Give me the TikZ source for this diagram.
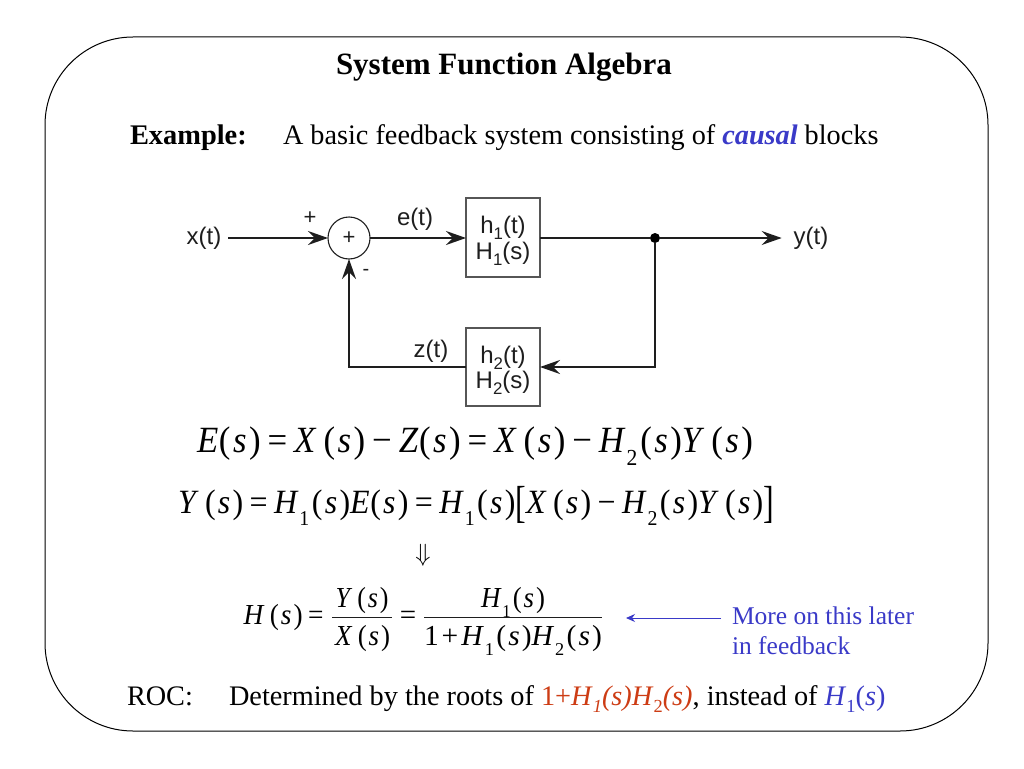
\documentclass[tikz,border=0pt]{standalone}
\usepackage{fontspec}
\usepackage{graphicx}
\setmainfont{Liberation Serif}
\newfontfamily\diagfont{Liberation Sans}
\usetikzlibrary{arrows.meta,calc}
\definecolor{bluetxt}{RGB}{58,58,200}
\definecolor{redtxt}{RGB}{205,60,20}
\definecolor{ink}{RGB}{30,30,30}
\newcommand{\fsz}[1]{\fontsize{#1}{#1}\selectfont}
\newcommand{\lsub}[1]{\raisebox{-.36em}{\scalebox{.62}{#1}}}
\newcommand{\Arg}{(\kern.07em\textit{s}\kern.07em)}
\newcommand{\Fn}[1]{\textit{#1}\kern.2em\Arg}
\newcommand{\Fe}[1]{\textit{#1}\kern.02em\Arg}
\newcommand{\Hn}[1]{\textit{H}\kern.03em\lsub{#1}\kern.08em\Arg}
\newcommand{\opr}[1]{\kern.2em#1\kern.2em}
\newcommand{\ssub}[1]{\raisebox{-.25em}{\scalebox{.7}{#1}}}
\tikzset{
  x=1pt,y=1pt,
  txt/.style={inner sep=0pt,outer sep=0pt,anchor=base west,text=black},
  formula/.style={inner sep=0pt,outer sep=0pt,anchor=base,text=black},
  diag/.style={inner sep=0pt,outer sep=0pt,font=\diagfont\fsz{24},text=ink,align=center},
  blockbox/.style={draw=ink!75,line width=1.4pt,minimum width=74pt,inner sep=0pt,outer sep=0pt,font=\diagfont\fsz{24},text=ink,align=center},
  wire/.style={draw=ink,line width=1.6pt},
  arr/.style={wire,-{Stealth[length=20pt,width=14pt,inset=7pt]}},
}
\begin{document}
\begin{tikzpicture}[x=1pt,y=1pt]
\useasboundingbox (0,0) rectangle (1024,-768);
\fill[white] (0,0) rectangle (1024,-768);
\node[draw=black,line width=1pt,rounded corners=88pt,minimum width=943pt,minimum height=694pt,inner sep=0pt,outer sep=0pt] (frame) at (516.5,-384) {};

\node[txt,font=\bfseries\fsz{31}] (title) at (336,-74.5) {System Function Algebra};
\node[txt,font=\bfseries\fsz{28.4}] (example) at (130,-144) {Example:};
\node[txt,font=\fsz{28.25}] (intro) at (283,-144) {A basic feedback system consisting of {\color{bluetxt}\bfseries\itshape causal} blocks};

% block diagram
\node[diag] (xlab) at (204,-238) {x(t)};
\node[draw=ink,line width=1.1pt,circle,minimum size=42pt,inner sep=0pt,outer sep=0pt,font=\diagfont\fsz{22},text=ink] (sum) at (349,-238) {+};
\node[blockbox,minimum height=79pt,text depth=0pt] (h1) at (503,-237.5) {\raisebox{-1pt}{h\ssub{1}(t)}\\[1.5pt]\raisebox{-1pt}{H\ssub{1}(s)}};
\node[blockbox,minimum height=78pt,text depth=0pt] (h2) at (503,-367) {\raisebox{-1pt}{h\ssub{2}(t)}\\[1.5pt]\raisebox{-1pt}{H\ssub{2}(s)}};
\node[diag] (ylab) at (811,-238) {y(t)};
\node[circle,fill=black,minimum size=10pt,inner sep=0pt,outer sep=0pt] (dot) at (655,-238) {};
\node[diag] (elab) at (415,-219) {e(t)};
\node[diag] (zlab) at (431,-351) {z(t)};
\node[diag,font=\diagfont\fsz{22}] (plus) at (310,-218) {+};
\node[diag,font=\diagfont\fsz{20}] (minus) at (366,-272) {-};
\coordinate (corner1) at (dot |- h2);
\coordinate (corner2) at (sum |- h2);

\draw[arr,shorten <=7pt] (xlab.east |- sum) -- (sum.west);
\draw[arr] (sum.east) -- (h1.west |- sum);
\draw[wire] (h1.east |- dot) -- (dot);
\draw[arr,shorten >=12pt] (dot) -- (ylab.west |- dot);
\draw[arr] (dot) -- (corner1) -- (h2.east);
\draw[arr] (h2.west) -- (corner2) -- (sum.south);

% equations
\node[txt,font=\fsz{37}] (eqa) at (197,-452) {\resizebox{556pt}{\height}{\Fe{E}\opr{=}\Fn{X}\opr{−}\Fe{Z}\opr{=}\Fn{X}\opr{−}\Hn{2}\Fn{Y}}};
\node[txt,font=\fsz{34}] (eqb) at (178,-513) {\resizebox{596pt}{\height}{\Fn{Y}\opr{=}\Hn{1}\Fe{E}\opr{=}\Hn{1}\raisebox{-.14em}{\scalebox{1}[1.32]{[}}\Fn{X}\opr{−}\Hn{2}\Fn{Y}\raisebox{-.14em}{\scalebox{1}[1.32]{]}}}};
\node[inner sep=0pt,outer sep=0pt,font=\fsz{24}] (impl) at (423,-555) {$\Downarrow$};

\node[txt,font=\fsz{29}] (eqc) at (243.5,-624) {\resizebox{80pt}{\height}{\Fn{H}\kern.2em=}};
\node[formula,font=\fsz{29}] (n1) at (362,-607) {\resizebox{53pt}{\height}{\Fn{Y}}};
\node[formula,font=\fsz{29}] (d1) at (362.5,-645) {\resizebox{55pt}{\height}{\Fn{X}}};
\node[formula,font=\fsz{29}] (eqd) at (408,-624) {=};
\node[formula,font=\fsz{29}] (n2) at (513,-607) {\resizebox{64pt}{\height}{\Hn{1}}};
\node[formula,font=\fsz{29}] (d2) at (513,-645) {\resizebox{178pt}{\height}{1\kern.1em+\kern.1em\Hn{1}\Hn{2}}};
\coordinate (fa1) at (332,-617); \coordinate (fa2) at (392,-617);
\coordinate (fb1) at (424,-617); \coordinate (fb2) at (602,-617);
\draw[ink,line width=.9pt] (fa1) -- (fa2);
\draw[ink,line width=.9pt] (fb1) -- (fb2);

\node[txt,font=\fsz{25.5},text=bluetxt] (more) at (732,-624) {More on this later};
\node[txt,font=\fsz{25.5},text=bluetxt] (fb) at (732,-654) {in feedback};
\coordinate (atip) at (626,-618);
\draw[bluetxt,line width=1pt,-{Stealth[length=9pt,width=8pt]}] (more.west |- atip) ++(-11,0) -- (atip);

\node[txt,font=\fsz{28.25}] (roc) at (127,-705) {ROC:};
\node[txt,font=\fsz{28.3}] (det) at (229,-705) {Determined by the roots of {\color{redtxt}1+\textit{H}\raisebox{-.25em}{\scalebox{.65}{\textit{1}}}\textit{(s)H}\raisebox{-.25em}{\scalebox{.65}{2}}\textit{(s)}}, instead of {\color{bluetxt}\textit{H}\raisebox{-.25em}{\scalebox{.65}{1}}(\textit{s})}};
\end{tikzpicture}
\end{document}
